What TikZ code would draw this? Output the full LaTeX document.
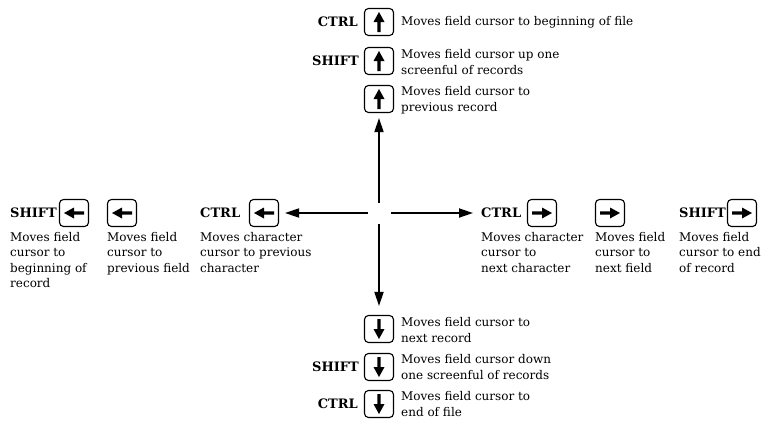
\documentclass[tikz,border=0pt]{standalone}
\usepackage{fontspec}
\setmainfont{DejaVu Serif}
\usetikzlibrary{arrows.meta}
\newcommand\keyglyph[2]{\fill[shift={(#1.center)}, rotate=#2] (-10,-1.7) -- (0,-1.7) -- (0,-5.5) -- (10,0) -- (0,5.5) -- (0,1.7) -- (-10,1.7) -- cycle;}
\tikzset{
  keybox/.style={draw, line width=1.1pt, rounded corners=4pt, minimum width=29pt, minimum height=27pt, inner sep=0pt},
  modlabel/.style={font=\fontsize{13}{15}\selectfont\bfseries, inner sep=0pt},
  desc/.style={font=\fontsize{12}{15.5}\selectfont, inner sep=0pt, align=left},
  bigarrow/.style={line width=1.8pt, -{Triangle[length=14pt,width=9pt]}},
}
\begin{document}
\begin{tikzpicture}[x=1pt,y=-1pt]
\useasboundingbox (0,0) rectangle (761,424);
% top column
\node[keybox] (kU1) at (379,22) {};
\node[modlabel, anchor=east] (mU1) at (358,22) {CTRL};
\node[desc, anchor=west] (tU1) at (401,22) {Moves field cursor to beginning of file};
\node[keybox] (kU2) at (379,61) {};
\node[modlabel, anchor=east] (mU2) at (359,61) {SHIFT};
\node[desc, anchor=west] (tU2) at (401,62) {Moves field cursor up one\\screenful of records};
\node[keybox] (kU3) at (379,99) {};
\node[desc, anchor=west] (tU3) at (401,100) {Moves field cursor to\\previous record};
% bottom column
\node[keybox] (kD1) at (379,329) {};
\node[desc, anchor=west] (tD1) at (401,330) {Moves field cursor to\\next record};
\node[keybox] (kD2) at (379,367) {};
\node[modlabel, anchor=east] (mD2) at (359,367) {SHIFT};
\node[desc, anchor=west] (tD2) at (401,367) {Moves field cursor down\\one screenful of records};
\node[keybox] (kD3) at (379,404) {};
\node[modlabel, anchor=east] (mD3) at (358,404) {CTRL};
\node[desc, anchor=west] (tD3) at (401,404) {Moves field cursor to\\end of file};
% left row
\node[modlabel, anchor=west] (mL1) at (10,213) {SHIFT};
\node[keybox] (kL1) at (74,213) {};
\node[desc, anchor=north west] (tL1) at (10,232) {Moves field\\cursor to\\beginning of\\record};
\node[keybox] (kL2) at (122,213) {};
\node[desc, anchor=north west] (tL2) at (107,232) {Moves field\\cursor to\\previous field};
\node[modlabel, anchor=west] (mL3) at (200,213) {CTRL};
\node[keybox] (kL3) at (264,213) {};
\node[desc, anchor=north west] (tL3) at (200,232) {Moves character\\cursor to previous\\character};
% right row
\node[modlabel, anchor=west] (mR1) at (481,213) {CTRL};
\node[keybox] (kR1) at (542,213) {};
\node[desc, anchor=north west] (tR1) at (481,232) {Moves character\\cursor to\\next character};
\node[keybox] (kR2) at (610,213) {};
\node[desc, anchor=north west] (tR2) at (595,232) {Moves field\\cursor to\\next field};
\node[modlabel, anchor=west] (mR3) at (679,213) {SHIFT};
\node[keybox] (kR3) at (742,213) {};
\node[desc, anchor=north west] (tR3) at (679,232) {Moves field\\cursor to end\\of record};
% key glyphs
\keyglyph{kU1}{90}\keyglyph{kU2}{90}\keyglyph{kU3}{90}
\keyglyph{kD1}{270}\keyglyph{kD2}{270}\keyglyph{kD3}{270}
\keyglyph{kL1}{180}\keyglyph{kL2}{180}\keyglyph{kL3}{180}
\keyglyph{kR1}{0}\keyglyph{kR2}{0}\keyglyph{kR3}{0}
% cross
\coordinate (cU) at (379,203);
\coordinate (cD) at (379,224);
\coordinate (cL) at (368,213);
\coordinate (cR) at (391,213);
\draw[bigarrow, shorten >=5pt] (cU) -- (kU3.south);
\draw[bigarrow, shorten >=9pt] (cD) -- (kD1.north);
\draw[bigarrow, shorten >=6pt] (cL) -- (kL3.east);
\draw[bigarrow, shorten >=8pt] (cR) -- (mR1.west);
\end{tikzpicture}
\end{document}
